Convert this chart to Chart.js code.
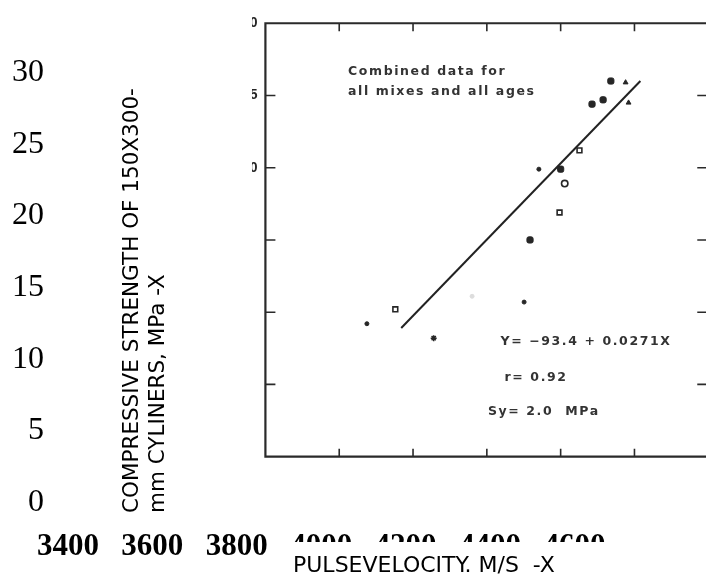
<!DOCTYPE html>
<html><head><meta charset="utf-8">
<script src="https://cdn.jsdelivr.net/npm/chart.js@4/dist/chart.umd.min.js"></script>
<style>html,body{margin:0;padding:0;background:#fff;overflow:hidden}canvas{display:block}</style>
</head><body>
<canvas id="c" width="706" height="575"></canvas>
<script>
// ---- overlay axis labels ----
const yTickValues = [0, 5, 10, 15, 20, 25, 30];
const yTickLabels = ['0', '5', '10', '15', '20', '25', '30'];
const xTickValues = [3400, 3600, 3800, 4000, 4200, 4400, 4600];
const xTickLabels = ['3400', '3600', '3800', '4000', '4200', '4400', '4600'];
const yTitleLines = ['COMPRESSIVE STRENGTH OF 150X300-', 'mm CYLINERS, MPa -X'];
const xTitle = 'PULSEVELOCITY. M/S  -X';

// ---- scanned plot: tick values ----
const scanXTicks = [3600, 3800, 4000, 4200, 4400];
const scanYTicks = [5, 10, 15, 20, 25];
const scanYLabels = ['30', '25', '20'];
const scanYLabelValues = [30, 25, 20];

// ---- scanned plot: data (pulse velocity m/s, strength MPa) ----
const filledX = [4336, 4285, 4315, 4200, 4117];
const filledY = [26.0, 24.4, 24.7, 19.9, 15.0];
const dotX = [4141, 4101, 3675];
const dotY = [19.9, 10.7, 9.2];
const triX = [4376, 4384];
const triY = [25.9, 24.5];
const openSqX = [4251, 4197, 3752];
const openSqY = [21.2, 16.9, 10.2];
const openCircX = [4211];
const openCircY = [18.9];
const starX = [3856];
const starY = [8.2];
const faintX = [3960];
const faintY = [11.1];
const regX = [3768, 4416];
const regY = [8.9, 26.0];

const annotations = [
  {text: 'Combined data for', x: 3624, y: 26.67},
  {text: 'all mixes and all ages', x: 3624, y: 25.25},
  {text: 'Y= \u221293.4 + 0.0271X', x: 4037, y: 7.94},
  {text: 'r= 0.92', x: 4048, y: 5.43},
  {text: 'Sy= 2.0  MPa', x: 4003, y: 3.12}
];

const zip = (xs, ys) => xs.map((x, i) => ({x, y: ys[i]}));

const W = 706, H = 575;
function hRange(v0, p0, v1, p1) { const k = (p1 - p0) / (v1 - v0); const min = v0 - p0 / k; return {min, max: min + W / k}; }
function vRange(v0, p0, v1, p1) { const k = (p0 - p1) / (v1 - v0); const max = v1 + p1 / k; return {min: max - H / k, max}; }
const xScan = hRange(3400, 264, 4600, 714);
const yScan = vRange(0, 460, 30, 18);
const xLab = hRange(3400, 63.3, 4600, 578);
const yLab = vRange(0, 504, 25, 139);

const INK = '#262626';

const scanFrame = {
  id: 'scanFrame',
  beforeDatasetsDraw(chart) {
    const ctx = chart.ctx, xs = chart.scales.x, ys = chart.scales.y;
    const X = v => xs.getPixelForValue(v), Y = v => ys.getPixelForValue(v);
    ctx.save();
    ctx.strokeStyle = '#2a2a2a';
    ctx.lineWidth = 2.2;
    ctx.beginPath();
    ctx.moveTo(chart.width, Y(30)); ctx.lineTo(X(3400), Y(30));
    ctx.lineTo(X(3400), Y(0)); ctx.lineTo(chart.width, Y(0));
    ctx.stroke();
    ctx.lineWidth = 1.6;
    ctx.beginPath();
    scanYTicks.forEach(v => {
      ctx.moveTo(X(3400), Y(v)); ctx.lineTo(X(3400) + 10, Y(v));
      ctx.moveTo(X(4600), Y(v)); ctx.lineTo(X(4600) - 11, Y(v));
    });
    scanXTicks.forEach(v => {
      ctx.moveTo(X(v), Y(30)); ctx.lineTo(X(v), Y(30) + 8);
      ctx.moveTo(X(v), Y(0)); ctx.lineTo(X(v), Y(0) - 8);
    });
    ctx.stroke();
    // partially visible scan tick labels (cut by the scan's edge)
    ctx.save();
    ctx.beginPath(); ctx.rect(252, 0, 8, H); ctx.clip();
    ctx.fillStyle = INK; ctx.font = 'bold 14px "Liberation Sans"';
    ctx.textAlign = 'right'; ctx.textBaseline = 'middle';
    scanYLabelValues.forEach((v, i) => ctx.fillText(scanYLabels[i], X(3400) - 8, Y(v)));
    ctx.restore();
    // annotations
    ctx.fillStyle = '#333';
    ctx.font = 'bold 12.5px "DejaVu Sans"';
    if ('letterSpacing' in ctx) ctx.letterSpacing = '1.6px';
    ctx.textAlign = 'left'; ctx.textBaseline = 'middle';
    annotations.forEach(a => ctx.fillText(a.text, X(a.x), Y(a.y)));
    ctx.restore();
  },
  afterDraw(chart) {
    const ctx = chart.ctx, xl = chart.scales.xL, yl = chart.scales.yL;
    ctx.save();
    ctx.fillStyle = '#000';
    ctx.font = '32px "Liberation Serif"';
    ctx.textAlign = 'right'; ctx.textBaseline = 'alphabetic';
    yTickValues.forEach((v, i) => ctx.fillText(yTickLabels[i], 44, yl.getPixelForValue(v) + 11));
    ctx.font = 'bold 31px "Liberation Serif"';
    ctx.textAlign = 'center';
    xTickValues.forEach((v, i) => ctx.fillText(xTickLabels[i], xl.getPixelForValue(v), 555));
    // title box (hides lower part of the last tick labels)
    ctx.fillStyle = '#fff';
    ctx.fillRect(275, 542, W - 275, H - 542);
    ctx.fillStyle = '#000';
    ctx.font = '22px "DejaVu Sans"';
    ctx.textAlign = 'left';
    ctx.fillText(xTitle, 293, 572);
    // rotated y title
    ctx.font = '21.5px "DejaVu Sans"';
    ctx.save();
    ctx.translate(137.5, 513);
    ctx.rotate(-Math.PI / 2);
    ctx.fillText(yTitleLines[0], 0, 0);
    ctx.fillText(yTitleLines[1], 0, 26);
    ctx.restore();
    ctx.restore();
  }
};

const common = {borderColor: INK, backgroundColor: INK, pointBorderWidth: 1};
new Chart(document.getElementById('c'), {
  type: 'scatter',
  data: {
    datasets: [
      {type: 'line', data: zip(regX, regY), borderColor: '#222', borderWidth: 2, pointRadius: 0, showLine: true, fill: false},
      {...common, data: zip(filledX, filledY), pointStyle: 'rectRounded', pointRadius: 3.6},
      {...common, data: zip(dotX, dotY), pointStyle: 'circle', pointRadius: 2},
      {...common, data: zip(triX, triY), pointStyle: 'triangle', pointRadius: 2.8},
      {data: zip(openSqX, openSqY), pointStyle: 'rect', pointRadius: 3.4, borderColor: INK, backgroundColor: '#fff', pointBorderWidth: 1.6},
      {data: zip(openCircX, openCircY), pointStyle: 'circle', pointRadius: 3.2, borderColor: INK, backgroundColor: '#fff', pointBorderWidth: 1.6},
      {data: zip(starX, starY), pointStyle: 'star', pointRadius: 3, borderColor: INK, backgroundColor: INK, pointBorderWidth: 1.5},
      {data: zip(faintX, faintY), pointStyle: 'circle', pointRadius: 2, borderColor: '#ddd', backgroundColor: '#ddd'}
    ]
  },
  options: {
    responsive: false,
    animation: false,
    layout: {padding: 0},
    plugins: {legend: {display: false}, tooltip: {enabled: false}},
    scales: {
      x: {type: 'linear', display: false, bounds: 'data', min: xScan.min, max: xScan.max},
      y: {type: 'linear', display: false, bounds: 'data', min: yScan.min, max: yScan.max},
      xL: {type: 'linear', axis: 'x', display: false, bounds: 'data', min: xLab.min, max: xLab.max},
      yL: {type: 'linear', axis: 'y', display: false, bounds: 'data', min: yLab.min, max: yLab.max}
    }
  },
  plugins: [scanFrame]
});
</script>
</body></html>
